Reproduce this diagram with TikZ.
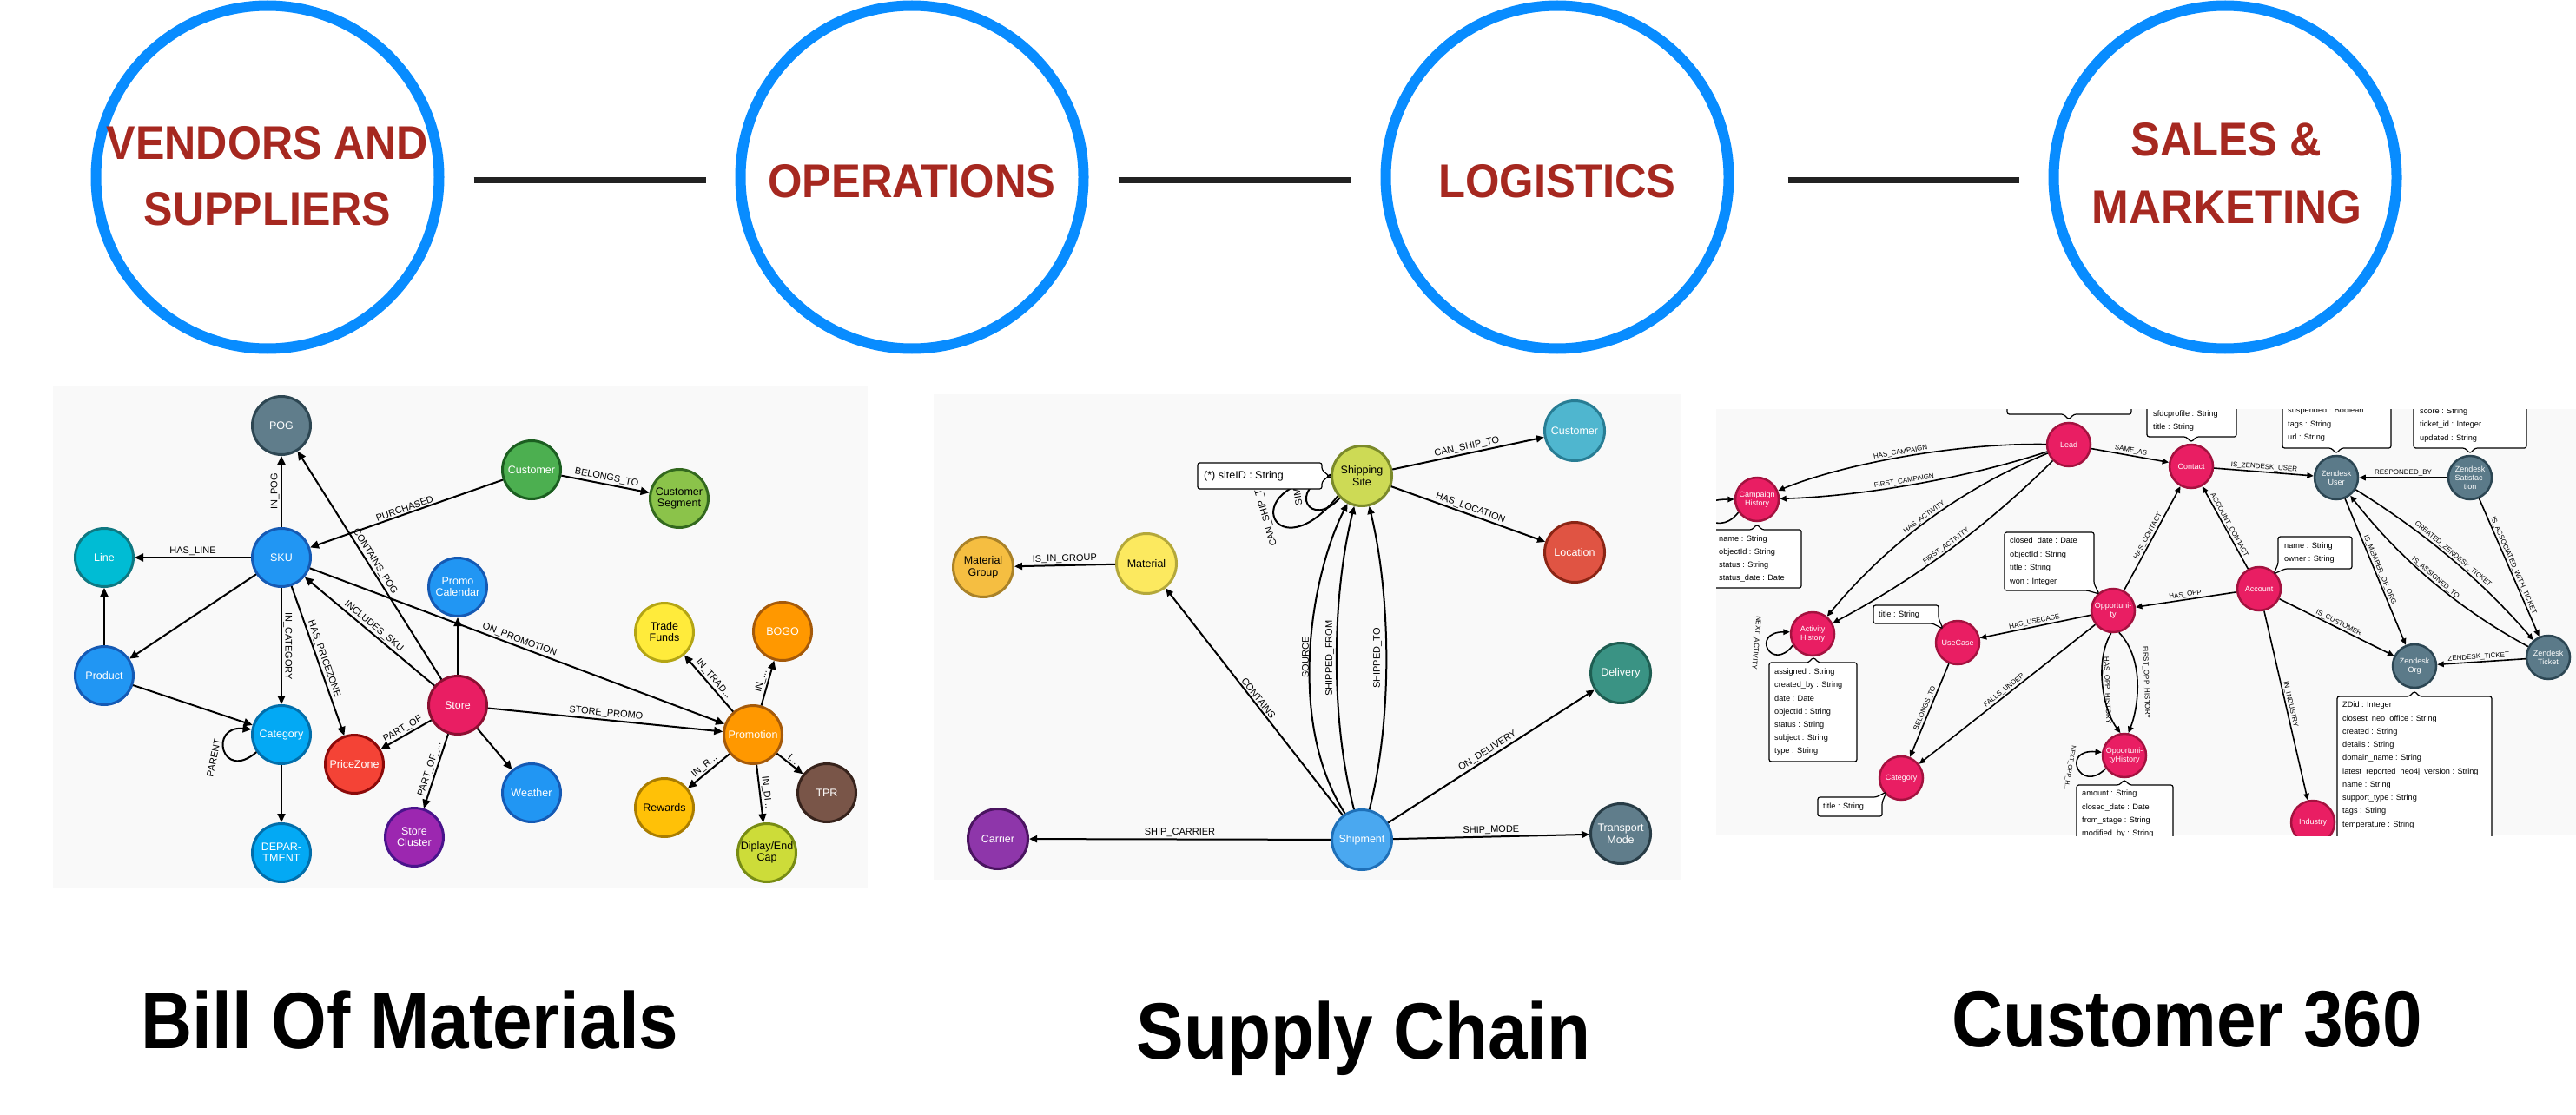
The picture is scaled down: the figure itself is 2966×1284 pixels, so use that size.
\documentclass[tikz,border=0pt]{standalone}
\usepackage{fontspec}
\setmainfont{Liberation Sans}
\usepackage{graphicx}
\usetikzlibrary{arrows.meta}
\definecolor{ringblue}{RGB}{8,140,255}
\definecolor{connblack}{RGB}{34,34,34}
\definecolor{titlered}{RGB}{166,40,32}
\definecolor{panelgray}{RGB}{249,249,249}
\definecolor{pogF}{RGB}{96,125,139}\definecolor{pogD}{RGB}{45,70,82}
\definecolor{blueF}{RGB}{33,150,243}\definecolor{blueD}{RGB}{21,90,180}
\definecolor{lineF}{RGB}{0,188,212}\definecolor{lineD}{RGB}{14,120,130}
\definecolor{greenF}{RGB}{76,175,80}\definecolor{greenD}{RGB}{27,94,32}
\definecolor{lgreenF}{RGB}{139,195,74}\definecolor{lgreenD}{RGB}{51,105,30}
\definecolor{yellowF}{RGB}{255,235,59}\definecolor{yellowD}{RGB}{180,165,20}
\definecolor{orangeF}{RGB}{255,152,0}\definecolor{orangeD}{RGB}{165,90,10}
\definecolor{pinkF}{RGB}{233,30,99}\definecolor{pinkD}{RGB}{140,15,50}
\definecolor{amberF}{RGB}{255,193,7}\definecolor{amberD}{RGB}{170,125,0}
\definecolor{brownF}{RGB}{121,85,72}\definecolor{brownD}{RGB}{55,35,28}
\definecolor{limeF}{RGB}{205,220,57}\definecolor{limeD}{RGB}{120,140,20}
\definecolor{lblueF}{RGB}{3,169,244}\definecolor{lblueD}{RGB}{2,110,170}
\definecolor{redF}{RGB}{244,67,54}\definecolor{redD}{RGB}{140,10,10}
\definecolor{purpleF}{RGB}{156,39,176}\definecolor{purpleD}{RGB}{74,20,140}
\definecolor{mgF}{RGB}{245,190,65}\definecolor{mgD}{RGB}{170,130,40}
\definecolor{matF}{RGB}{252,233,95}\definecolor{matD}{RGB}{180,168,58}
\definecolor{siteF}{RGB}{205,218,85}\definecolor{siteD}{RGB}{123,138,42}
\definecolor{custF}{RGB}{79,182,207}\definecolor{custD}{RGB}{40,125,148}
\definecolor{locF}{RGB}{224,84,67}\definecolor{locD}{RGB}{139,37,21}
\definecolor{delF}{RGB}{58,147,132}\definecolor{delD}{RGB}{30,94,82}
\definecolor{tmF}{RGB}{96,125,139}\definecolor{tmD}{RGB}{40,60,70}
\definecolor{shipF}{RGB}{74,168,240}\definecolor{shipD}{RGB}{31,112,184}
\definecolor{carF}{RGB}{142,54,170}\definecolor{carD}{RGB}{74,20,96}
\definecolor{pkF}{RGB}{233,30,99}\definecolor{pkD}{RGB}{163,18,63}
\definecolor{zdF}{RGB}{91,122,137}\definecolor{zdD}{RGB}{44,70,83}
\tikzset{
  ring/.style={circle, draw=ringblue, line width=12pt, minimum size=395pt, inner sep=0pt},
  conn/.style={draw=connblack, line width=7pt},
  ctext/.style={text=titlered, font=\fontsize{54.5}{54.5}\selectfont\bfseries, inner sep=0pt, anchor=base},
  btitle/.style={text=black, font=\fontsize{92}{92}\selectfont\bfseries, inner sep=0pt, anchor=base},
  panel/.style={fill=panelgray, draw=none},
  n1/.style 2 args={circle, fill=#1, draw=#2, line width=3pt, minimum size=67pt, inner sep=0pt, align=center, text=white, font=\fontsize{12.5}{13}\selectfont},
  n2/.style 2 args={circle, fill=#1, draw=#2, line width=3pt, minimum size=69pt, inner sep=0pt, align=center, text=white, font=\fontsize{12.5}{14}\selectfont},
  n3/.style 2 args={circle, fill=#1, draw=#2, line width=2.5pt, minimum size=50pt, inner sep=0pt, align=center, text=white, font=\fontsize{9}{10}\selectfont},
  e1/.style={draw=black, line width=2pt, -{Triangle[length=10pt,width=9pt]}},
  e2/.style={draw=black, line width=2pt, -{Triangle[length=9pt,width=8pt]}},
  e3/.style={draw=black, line width=1.6pt, -{Triangle[length=7.5pt,width=6.5pt]}},
  lp/.style={draw=black, line width=2pt},
  l1/.style={midway, sloped, above, inner sep=1.5pt, font=\fontsize{11}{11}\selectfont},
  l2/.style={midway, sloped, above, inner sep=1.5pt, font=\fontsize{11}{11}\selectfont},
  l3/.style={midway, sloped, above, inner sep=1pt, font=\fontsize{8}{8}\selectfont},
  lfree/.style={inner sep=0pt, font=\fontsize{11}{11}\selectfont},
  lfree3/.style={inner sep=0pt, font=\fontsize{8}{8}\selectfont},
  pbox/.style={draw=black, fill=white, line width=1.2pt, rounded corners=2.5pt},
  ptext/.style={anchor=west, inner sep=0pt, font=\fontsize{9.2}{10}\selectfont},
  stext/.style={anchor=west, inner sep=0pt, font=\fontsize{12.5}{13}\selectfont},
}
\begin{document}
\begin{tikzpicture}[x=1pt,y=-1pt]
\fill[white] (0,0) rectangle (2966,1284);
\useasboundingbox (0,0) rectangle (2966,1284);

% ---------- top row ----------
\node[ring] (c1) at (308,204) {};
\node[ring] (c2) at (1050,204) {};
\node[ring] (c3) at (1793,204) {};
\node[ring] (c4) at (2562,204) {};
\draw[conn, shorten <=34pt, shorten >=34pt] ([yshift=-4pt]c1.east) -- ([yshift=-4pt]c2.west);
\draw[conn, shorten <=34pt, shorten >=34pt] ([yshift=-4pt]c2.east) -- ([yshift=-4pt]c3.west);
\draw[conn, shorten <=62pt, shorten >=34pt] ([yshift=-4pt]c3.east) -- ([yshift=-4pt]c4.west);
\node[ctext] (t1a) at (308,184) {\scalebox{0.92}[1]{VENDORS AND}};
\node[ctext] (t1b) at (308,259) {\scalebox{0.92}[1]{SUPPLIERS}};
\node[ctext] (t2) at (1050,228) {\scalebox{0.93}[1]{OPERATIONS}};
\node[ctext] (t3) at (1793,228) {\scalebox{0.93}[1]{LOGISTICS}};
\node[ctext] (t4a) at (2563,180) {\scalebox{0.93}[1]{SALES \&}};
\node[ctext] (t4b) at (2564,257) {\scalebox{0.94}[1]{MARKETING}};

% ---------- bottom titles ----------
\node[btitle] (b1) at (472,1207) {\scalebox{0.89}[1]{Bill Of Materials}};
\node[btitle] (b2) at (1570,1219) {\scalebox{0.89}[1]{Supply Chain}};
\node[btitle] (b3) at (2518,1205) {\scalebox{0.89}[1]{Customer 360}};

% ---------- panel 1 ----------
\fill[panel] (61,444) rectangle (999,1023);
\node[n1={pogF}{pogD}] (pog) at (324,490) {POG};
\node[n1={blueF}{blueD}] (sku) at (324,642) {SKU};
\node[n1={lineF}{lineD}] (line) at (120,642) {Line};
\node[n1={blueF}{blueD}] (promocal) at (527,676) {Promo\\Calendar};
\node[n1={greenF}{greenD}] (cust1) at (612,541) {Customer};
\node[n1={lgreenF}{lgreenD}, text=black] (seg) at (782,574) {Customer\\Segment};
\node[n1={yellowF}{yellowD}, text=black] (trade) at (765,728) {Trade\\Funds};
\node[n1={orangeF}{orangeD}] (bogo) at (901,727) {BOGO};
\node[n1={orangeF}{orangeD}] (promo) at (867,846) {Promotion};
\node[n1={pinkF}{pinkD}] (store) at (527,812) {Store};
\node[n1={blueF}{blueD}] (weather) at (612,913) {Weather};
\node[n1={amberF}{amberD}, text=black] (rewards) at (765,930) {Rewards};
\node[n1={brownF}{brownD}] (tpr) at (952,913) {TPR};
\node[n1={limeF}{limeD}, text=black] (disp) at (883,982) {Diplay/End\\Cap};
\node[n1={blueF}{blueD}] (product) at (120,778) {Product};
\node[n1={lblueF}{lblueD}] (cat1) at (324,846) {Category};
\node[n1={redF}{redD}] (price) at (408,880) {PriceZone};
\node[n1={purpleF}{purpleD}] (cluster) at (477,964) {Store\\Cluster};
\node[n1={lblueF}{lblueD}] (dept) at (324,982) {DEPAR-\\TMENT};

\draw[e1] (sku) -- node[midway, rotate=90, above, inner sep=1.5pt, font=\fontsize{11}{11}\selectfont]{IN\_POG} (pog);
\draw[e1] (store) -- node[l1]{CONTAINS\_POG} (pog);
\draw[e1] (cust1) -- node[l1]{PURCHASED} (sku);
\draw[e1] (sku) -- node[l1]{HAS\_LINE} (line);
\draw[e1] (sku) -- (product);
\draw[e1] (product) -- (line);
\draw[e1] (product) -- (cat1);
\draw[e1] (sku) -- node[midway, rotate=-90, above, inner sep=1.5pt, font=\fontsize{11}{11}\selectfont]{IN\_CATEGORY} (cat1);
\draw[e1] (sku) -- node[l1]{HAS\_PRICEZONE} (price);
\draw[e1] (store) -- node[l1]{INCLUDES\_SKU} (sku);
\draw[e1] (sku) -- node[l1]{ON\_PROMOTION} (promo);
\draw[e1] (store) -- (promocal);
\draw[e1] (store) -- node[l1]{PART\_OF} (price);
\draw[e1] (store) -- node[l1]{PART\_OF\_...} (cluster);
\draw[e1] (store) -- (weather);
\draw[e1] (store) -- node[l1]{STORE\_PROMO} (promo);
\draw[e1] (cust1) -- node[l1]{BELONGS\_TO} (seg);
\draw[e1] (promo) -- node[l1]{IN\_TRAD...} (trade);
\draw[e1] (promo) -- node[l1]{IN\_...} (bogo);
\draw[e1] (promo) -- node[l1]{IN\_R...} (rewards);
\draw[e1] (promo) -- node[l1]{IN\_DI...} (disp);
\draw[e1] (promo) -- node[l1]{I...} (tpr);
\draw[e1] (cat1.215) .. controls (255,901) and (240,835) .. (cat1.170);
\node[lfree, rotate=78] (parentlbl) at (246,873) {PARENT};
\draw[e1] (cat1) -- (dept);

% ---------- panel 2 ----------
\fill[panel] (1075,454) rectangle (1935,1013);
\node[n2={mgF}{mgD}, text=black] (mgroup) at (1132,653) {Material\\Group};
\node[n2={matF}{matD}, text=black] (mat) at (1320,649) {Material};
\node[n2={siteF}{siteD}, text=black] (site) at (1568,548) {Shipping\\Site};
\node[n2={custF}{custD}] (cust2) at (1813,496) {Customer};
\node[n2={locF}{locD}] (loc) at (1813,636) {Location};
\node[n2={delF}{delD}] (deliv) at (1866,775) {Delivery};
\node[n2={tmF}{tmD}] (tmode) at (1866,960) {Transport\\Mode};
\node[n2={shipF}{shipD}] (shipm) at (1568,967) {Shipment};
\node[n2={carF}{carD}] (carrier) at (1149,966) {Carrier};

\draw[e2] (mat) -- node[l2]{IS\_IN\_GROUP} (mgroup);
\draw[e2] (site) -- node[l2]{CAN\_SHIP\_TO} (cust2);
\draw[e2] (site) -- node[l2]{HAS\_LOCATION} (loc);
\draw[e2] (shipm) -- node[l2]{CONTAINS} (mat);
\draw[e2] (shipm) .. controls (1480,830) and (1510,660) .. (site);
\draw[e2] (shipm) .. controls (1530,820) and (1535,680) .. (site);
\draw[e2] (shipm) .. controls (1605,820) and (1600,680) .. (site);
\node[lfree, rotate=90] (srclbl) at (1503,757) {SOURCE};
\node[lfree, rotate=90] (sfromlbl) at (1531,758) {SHIPPED\_FROM};
\node[lfree, rotate=90] (stolbl) at (1586,758) {SHIPPED\_TO};
\draw[e2] (shipm) -- node[l2]{ON\_DELIVERY} (deliv);
\draw[e2] (shipm) -- node[l2]{SHIP\_MODE} (tmode);
\draw[e2] (shipm) -- node[l2]{SHIP\_CARRIER} (carrier);
\draw[lp] (site.220) .. controls (1470,660) and (1420,560) .. (site.182);
\draw[lp] (site.225) .. controls (1510,610) and (1480,565) .. (site.178);
\node[lfree, rotate=106] (canship) at (1457,592) {CAN\_SHIP\_TO};
\node[lfree, rotate=100] (similar) at (1492,560) {SIMILAR};
\draw[pbox] (1379,533) -- (1522,533) -- (1522,541) -- (1530,548) -- (1522,555) -- (1522,563) -- (1379,563) -- cycle;
\node[stext] (siteid) at (1386,548) {(*) siteID : String};

% ---------- panel 3 ----------
\fill[panel] (1976,471) rectangle (2966,962);
\begin{scope}
\clip (1976,471) rectangle (2966,962);
\node[n3={pkF}{pkD}] (lead) at (2382,512) {Lead};
\node[n3={pkF}{pkD}] (camp) at (2023,575) {Campaign\\History};
\node[n3={pkF}{pkD}] (act) at (2087,730) {Activity\\History};
\node[n3={pkF}{pkD}] (opp) at (2433,703) {Opportuni-\\ty};
\node[n3={pkF}{pkD}] (usec) at (2254,740) {UseCase};
\node[n3={pkF}{pkD}] (contact) at (2523,537) {Contact};
\node[n3={zdF}{zdD}] (zuser) at (2690,550) {Zendesk\\User};
\node[n3={zdF}{zdD}] (zsat) at (2844,550) {Zendesk\\Satisfac-\\tion};
\node[n3={pkF}{pkD}] (acct) at (2601,678) {Account};
\node[n3={zdF}{zdD}] (zticket) at (2934,757) {Zendesk\\Ticket};
\node[n3={zdF}{zdD}] (zorg) at (2780,767) {Zendesk\\Org};
\node[n3={pkF}{pkD}] (cat3) at (2189,896) {Category};
\node[n3={pkF}{pkD}] (opph) at (2446,870) {Opportuni-\\tyHistory};
\node[n3={pkF}{pkD}] (industry) at (2663,947) {Industry};

\draw[e3] (lead) .. controls (2250,510) and (2120,535) .. (camp) node[l3]{HAS\_CAMPAIGN};
\draw[e3] (lead) .. controls (2250,555) and (2130,572) .. (camp) node[l3]{FIRST\_CAMPAIGN};
\draw[e3] (lead) .. controls (2257,563) and (2173,626) .. (act) node[l3]{HAS\_ACTIVITY};
\draw[e3] (lead) .. controls (2288,606) and (2205,667) .. (act) node[l3]{FIRST\_ACTIVITY};
\draw[e3] (lead) -- node[l3]{SAME\_AS} (contact);
\draw[e3] (camp.215) .. controls (1975,625) and (1930,575) .. (camp.180);
\draw[e3] (act.210) .. controls (2040,775) and (2015,728) .. (act.175);
\node[lfree3, rotate=-95] (actloop) at (2022,740) {NEXT\_ACTIVITY};
\draw[e3] (contact) -- node[l3]{IS\_ZENDESK\_USER} (zuser);
\draw[e3] (zsat) -- node[l3]{RESPONDED\_BY} (zuser);
\draw[e3] (opp) -- node[l3]{HAS\_CONTACT} (contact);
\draw[e3] (acct) -- node[l3]{ACCOUNT\_CONTACT} (contact);
\draw[e3] (acct) -- node[l3]{HAS\_OPP} (opp);
\draw[e3] (opp) -- node[l3]{HAS\_USECASE} (usec);
\draw[e3] (usec) -- node[l3]{BELONGS\_TO} (cat3);
\draw[e3] (opp) -- node[l3]{FALLS\_UNDER} (cat3);
\draw[e3] (opp.265) .. controls (2412,760) and (2420,815) .. (opph.100);
\draw[e3] (opp.285) .. controls (2470,760) and (2462,815) .. (opph.80);
\node[lfree3, rotate=-88] (hasopph) at (2426,795) {HAS\_OPP\_HISTORY};
\node[lfree3, rotate=-88] (firstopph) at (2471,786) {FIRST\_OPP\_HISTORY};
\draw[e3] (opph.215) .. controls (2395,915) and (2372,862) .. (opph.172);
\node[lfree3, rotate=-100, font=\fontsize{7}{7}\selectfont] (opphloop) at (2383,884) {NEXT\_OPP\_H...};
\draw[e3] (acct) -- node[l3]{IN\_INDUSTRY} (industry);
\draw[e3] (acct) -- node[l3]{IS\_CUSTOMER} (zorg);
\draw[e3] (zuser) -- node[l3]{IS\_MEMBER\_OF\_ORG} (zorg);
\draw[e3] (zticket) .. controls (2832,702) and (2764,645) .. (zuser) node[l3]{IS\_ASSIGNED\_TO};
\draw[e3] (zuser) .. controls (2790,612) and (2856,667) .. (zticket) node[l3]{CREATED\_ZENDESK\_TICKET};
\draw[e3] (zsat) -- node[l3]{IS\_ASSOCIATED\_WITH\_TICKET} (zticket);
\draw[e3] (zticket) -- node[l3]{ZENDESK\_TICKET...} (zorg);

% property boxes
\draw[pbox] (2311,400) -- (2454,400) -- (2454,477) -- (2388,477) -- (2382,483) -- (2376,477) -- (2311,477) -- cycle;
\draw[pbox] (2472,400) -- (2575,400) -- (2575,503) -- (2529,503) -- (2523,509) -- (2517,503) -- (2472,503) -- cycle;
\node[ptext] (ct1) at (2479,477) {sfdcprofile : String};
\node[ptext] (ct2) at (2479,492) {title : String};
\draw[pbox] (2628,400) -- (2753,400) -- (2753,516) -- (2696,516) -- (2690,522) -- (2684,516) -- (2628,516) -- cycle;
\node[ptext] (zu1) at (2634,473) {suspended : Boolean};
\node[ptext] (zu2) at (2634,489) {tags : String};
\node[ptext] (zu3) at (2634,504) {url : String};
\draw[pbox] (2779,400) -- (2909,400) -- (2909,516) -- (2850,516) -- (2844,522) -- (2838,516) -- (2779,516) -- cycle;
\node[ptext] (zs1) at (2786,474) {score : String};
\node[ptext] (zs2) at (2786,489) {ticket\_id : Integer};
\node[ptext] (zs3) at (2786,505) {updated : String};
\draw[pbox] (1960,610) -- (2017,610) -- (2023,604) -- (2029,610) -- (2074,610) -- (2074,677) -- (1960,677) -- cycle;
\node[ptext] (cp1) at (1979,621) {name : String};
\node[ptext] (cp2) at (1979,636) {objectId : String};
\node[ptext] (cp3) at (1979,651) {status : String};
\node[ptext] (cp4) at (1979,666) {status\_date : Date};
\draw[pbox] (2308,613) -- (2411,613) -- (2411,672) -- (2417,684) -- (2403,680) -- (2308,680) -- cycle;
\node[ptext] (op1) at (2314,623) {closed\_date : Date};
\node[ptext] (op2) at (2314,639) {objectId : String};
\node[ptext] (op3) at (2314,654) {title : String};
\node[ptext] (op4) at (2314,670) {won : Integer};
\draw[pbox] (2157,697) -- (2232,697) -- (2232,712) -- (2237,724) -- (2225,718) -- (2157,718) -- cycle;
\node[ptext] (uc1) at (2163,708) {title : String};
\draw[pbox] (2623,618) -- (2708,618) -- (2708,655) -- (2631,655) -- (2618,661) -- (2623,649) -- cycle;
\node[ptext] (ac1) at (2630,629) {name : String};
\node[ptext] (ac2) at (2630,644) {owner : String};
\draw[pbox] (2037,763) -- (2082,763) -- (2088,757) -- (2094,763) -- (2138,763) -- (2138,877) -- (2037,877) -- cycle;
\node[ptext] (ah1) at (2043,774) {assigned : String};
\node[ptext] (ah2) at (2043,789) {created\_by : String};
\node[ptext] (ah3) at (2043,804) {date : Date};
\node[ptext] (ah4) at (2043,820) {objectId : String};
\node[ptext] (ah5) at (2043,835) {status : String};
\node[ptext] (ah6) at (2043,850) {subject : String};
\node[ptext] (ah7) at (2043,865) {type : String};
\draw[pbox] (2093,918) -- (2160,918) -- (2172,912) -- (2167,924) -- (2167,940) -- (2093,940) -- cycle;
\node[ptext] (cb1) at (2099,929) {title : String};
\draw[pbox] (2391,904) -- (2440,904) -- (2446,898) -- (2452,904) -- (2502,904) -- (2502,1000) -- (2391,1000) -- cycle;
\node[ptext] (oh1) at (2397,914) {amount : String};
\node[ptext] (oh2) at (2397,930) {closed\_date : Date};
\node[ptext] (oh3) at (2397,945) {from\_stage : String};
\node[ptext] (oh4) at (2397,960) {modified\_by : String};
\draw[pbox] (2691,802) -- (2774,802) -- (2780,796) -- (2786,802) -- (2869,802) -- (2869,1000) -- (2691,1000) -- cycle;
\node[ptext] (zo1) at (2697,812) {ZDid : Integer};
\node[ptext] (zo2) at (2697,828) {closest\_neo\_office : String};
\node[ptext] (zo3) at (2697,843) {created : String};
\node[ptext] (zo4) at (2697,858) {details : String};
\node[ptext] (zo5) at (2697,873) {domain\_name : String};
\node[ptext] (zo6) at (2697,889) {latest\_reported\_neo4j\_version : String};
\node[ptext] (zo7) at (2697,904) {name : String};
\node[ptext] (zo8) at (2697,919) {support\_type : String};
\node[ptext] (zo9) at (2697,934) {tags : String};
\node[ptext] (zo10) at (2697,950) {temperature : String};
\end{scope}
\end{tikzpicture}
\end{document}
